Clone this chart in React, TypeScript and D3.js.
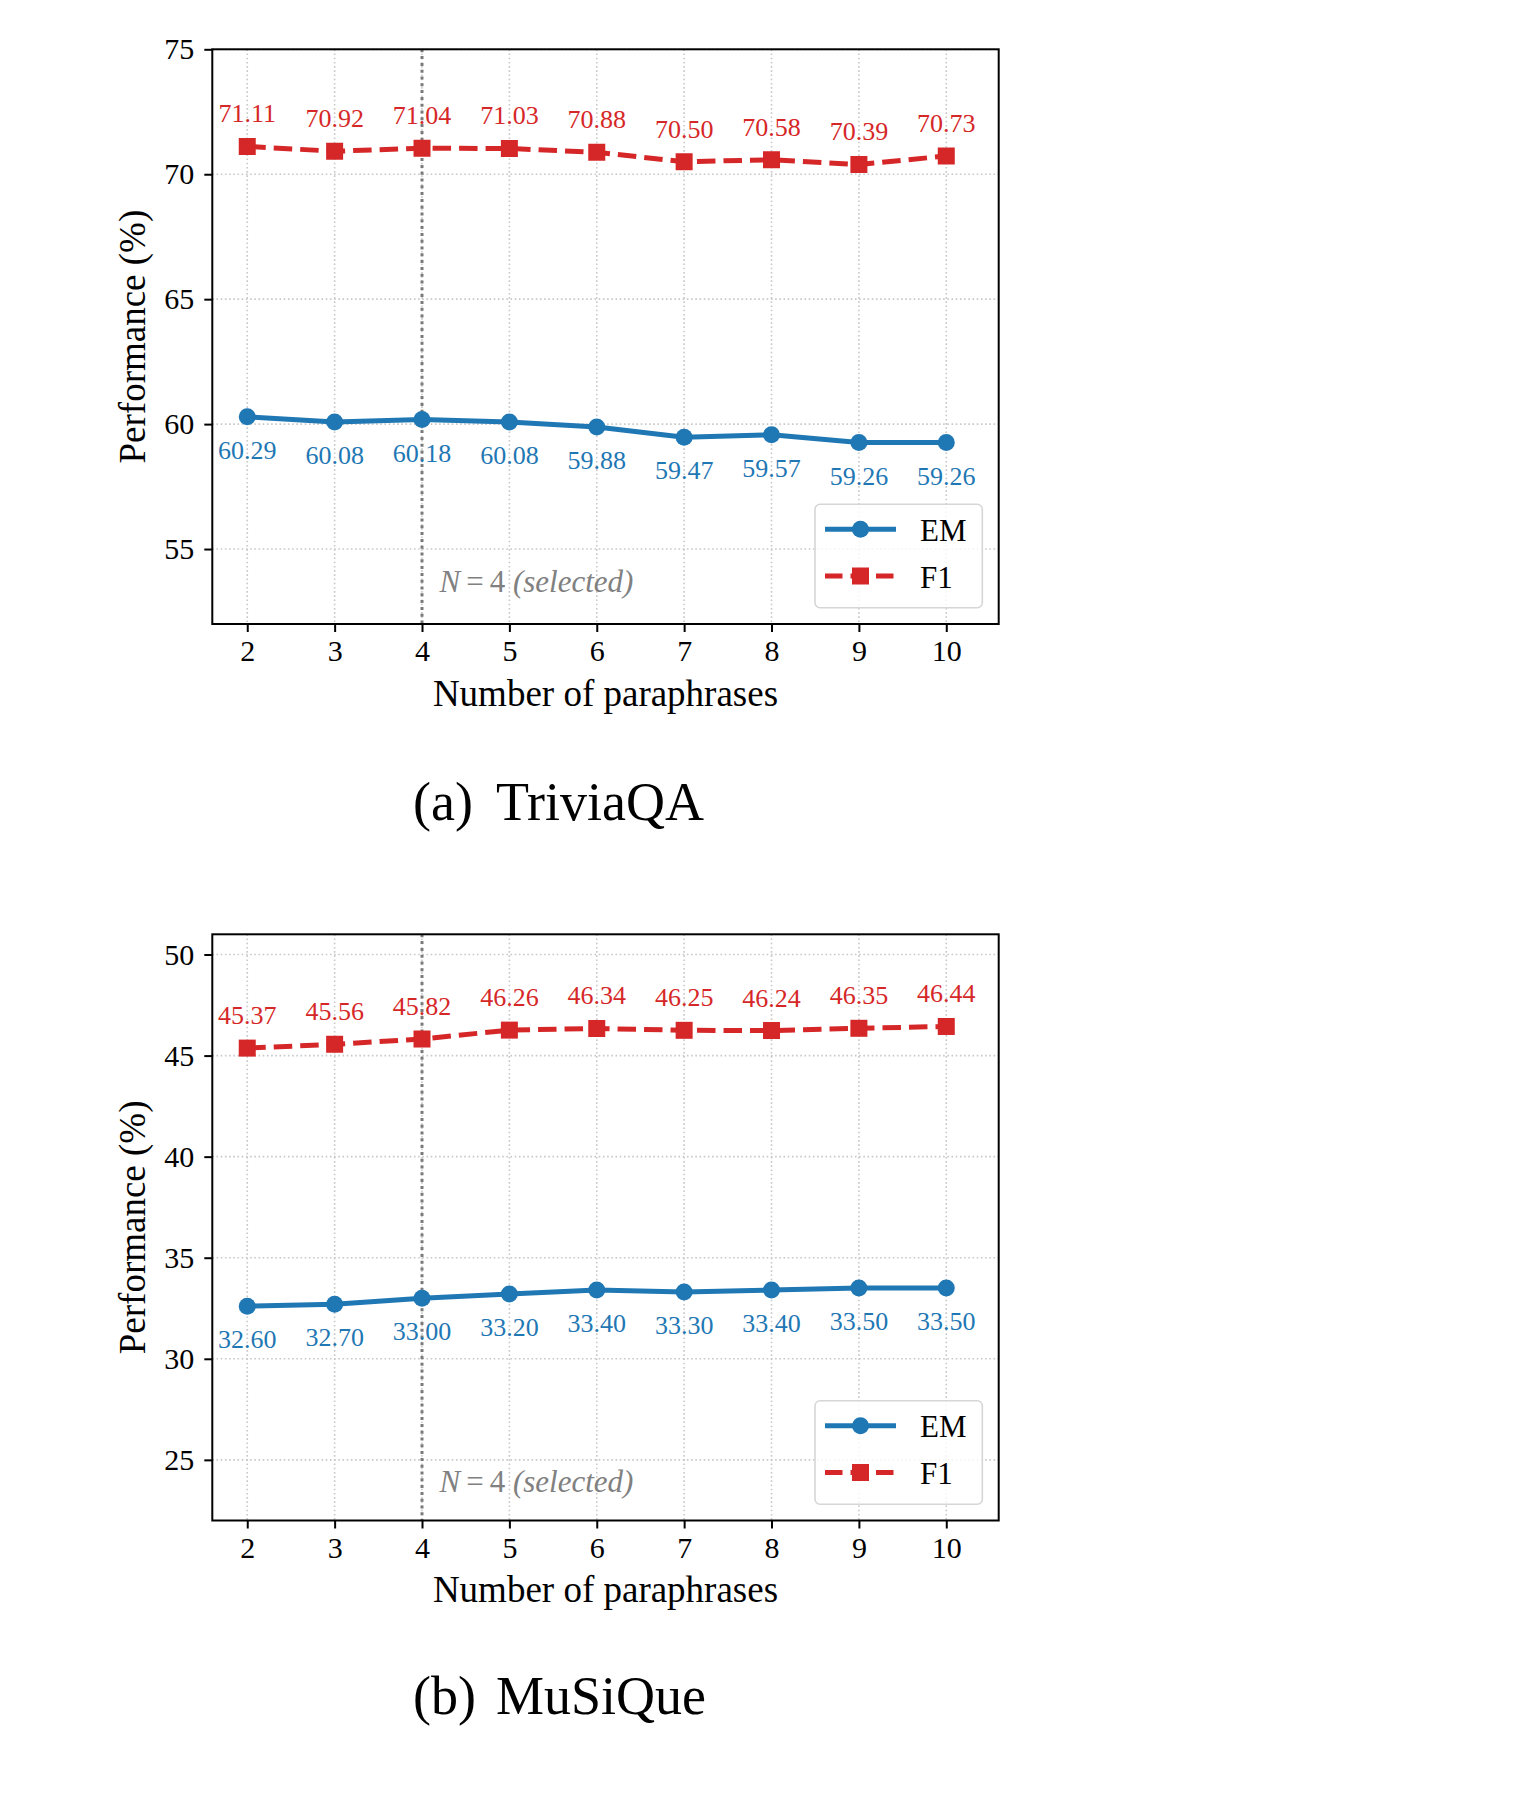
import * as d3 from "d3";
import React, { useEffect, useRef } from "react";

// x values: number of paraphrases
const paraphraseCounts = [2, 3, 4, 5, 6, 7, 8, 9, 10];

// TriviaQA scores (%)
const triviaEM = [60.29, 60.08, 60.18, 60.08, 59.88, 59.47, 59.57, 59.26, 59.26];
const triviaF1 = [71.11, 70.92, 71.04, 71.03, 70.88, 70.5, 70.58, 70.39, 70.73];
const triviaYTicks = [55, 60, 65, 70, 75];

// MuSiQue scores (%)
const musiqueEM = [32.6, 32.7, 33.0, 33.2, 33.4, 33.3, 33.4, 33.5, 33.5];
const musiqueF1 = [45.37, 45.56, 45.82, 46.26, 46.34, 46.25, 46.24, 46.35, 46.44];
const musiqueYTicks = [25, 30, 35, 40, 45, 50];

const selectedN = 4;
const seriesNames = ["EM", "F1"];

const FONT = "'Liberation Serif', 'Times New Roman', Times, serif";
const BLUE = "#1f77b4";
const RED = "#d62728";

interface PanelSpec {
  em: number[];
  f1: number[];
  yDomain: [number, number];
  yTicks: number[];
  top: number;
  bottom: number;
  annotY: number;
  tag: string;
  name: string;
  captionY: number;
}

const panels: PanelSpec[] = [
  {
    em: triviaEM,
    f1: triviaF1,
    yDomain: [52, 75],
    yTicks: triviaYTicks,
    top: 49.3,
    bottom: 624,
    annotY: 53.3,
    tag: "(a)",
    name: "TriviaQA",
    captionY: 820,
  },
  {
    em: musiqueEM,
    f1: musiqueF1,
    yDomain: [22, 51],
    yTicks: musiqueYTicks,
    top: 934.3,
    bottom: 1520.5,
    annotY: 23.4,
    tag: "(b)",
    name: "MuSiQue",
    captionY: 1714,
  },
];

export default function App() {
  const ref = useRef<SVGSVGElement | null>(null);

  useEffect(() => {
    const svg = d3.select(ref.current);
    svg.selectAll("*").remove();

    const left = 212.3;
    const right = 998.7;
    const x = d3.scaleLinear().domain([1.6, 10.6]).range([left, right]);

    panels.forEach((p) => {
      const y = d3.scaleLinear().domain(p.yDomain).range([p.bottom, p.top]);
      const g = svg.append("g").style("font-family", FONT);

      // dotted grid
      g.append("g")
        .selectAll("line")
        .data(paraphraseCounts)
        .join("line")
        .attr("x1", (d) => x(d))
        .attr("x2", (d) => x(d))
        .attr("y1", p.top)
        .attr("y2", p.bottom)
        .attr("stroke", "#c8c8c8")
        .attr("stroke-width", 1.6)
        .attr("stroke-dasharray", "1.6,2.6");
      g.append("g")
        .selectAll("line")
        .data(p.yTicks)
        .join("line")
        .attr("x1", left)
        .attr("x2", right)
        .attr("y1", (d) => y(d))
        .attr("y2", (d) => y(d))
        .attr("stroke", "#c8c8c8")
        .attr("stroke-width", 1.6)
        .attr("stroke-dasharray", "1.6,2.6");

      // marker for the chosen N
      g.append("line")
        .attr("x1", x(selectedN))
        .attr("x2", x(selectedN))
        .attr("y1", p.top)
        .attr("y2", p.bottom)
        .attr("stroke", "#6e6e6e")
        .attr("stroke-opacity", 0.9)
        .attr("stroke-width", 3)
        .attr("stroke-dasharray", "3,3.8");

      const annot = g
        .append("text")
        .attr("x", x(4.2))
        .attr("y", y(p.annotY))
        .style("font-family", FONT)
        .attr("font-size", 31)
        .attr("fill", "#808080");
      annot.append("tspan").attr("font-style", "italic").text("N");
      annot.append("tspan").attr("dx", 6).text("=");
      annot.append("tspan").attr("dx", 6).text("4");
      annot.append("tspan").attr("font-style", "italic").text(" (selected)");

      const line = d3
        .line<number>()
        .x((_, i) => x(paraphraseCounts[i]))
        .y((d) => y(d));

      // EM series
      g.append("path")
        .datum(p.em)
        .attr("d", line)
        .attr("fill", "none")
        .attr("stroke", BLUE)
        .attr("stroke-width", 5)
        .attr("stroke-linejoin", "round");
      g.append("g")
        .selectAll("circle")
        .data(p.em)
        .join("circle")
        .attr("cx", (_, i) => x(paraphraseCounts[i]))
        .attr("cy", (d) => y(d))
        .attr("r", 8.5)
        .attr("fill", BLUE);

      // F1 series
      g.append("path")
        .datum(p.f1)
        .attr("d", line)
        .attr("fill", "none")
        .attr("stroke", RED)
        .attr("stroke-width", 5)
        .attr("stroke-dasharray", "18.5,8");
      g.append("g")
        .selectAll("rect")
        .data(p.f1)
        .join("rect")
        .attr("x", (_, i) => x(paraphraseCounts[i]) - 8.5)
        .attr("y", (d) => y(d) - 8.5)
        .attr("width", 17)
        .attr("height", 17)
        .attr("fill", RED);

      // value labels
      g.append("g")
        .selectAll("text")
        .data(p.f1)
        .join("text")
        .attr("x", (_, i) => x(paraphraseCounts[i]))
        .attr("y", (d) => y(d) - 24)
        .attr("text-anchor", "middle")
        .style("font-family", FONT)
        .attr("font-size", 26)
        .attr("fill", RED)
        .text((d) => d.toFixed(2));
      g.append("g")
        .selectAll("text")
        .data(p.em)
        .join("text")
        .attr("x", (_, i) => x(paraphraseCounts[i]))
        .attr("y", (d) => y(d) + 42)
        .attr("text-anchor", "middle")
        .style("font-family", FONT)
        .attr("font-size", 26)
        .attr("fill", BLUE)
        .text((d) => d.toFixed(2));

      // frame
      g.append("rect")
        .attr("x", left)
        .attr("y", p.top)
        .attr("width", right - left)
        .attr("height", p.bottom - p.top)
        .attr("fill", "none")
        .attr("stroke", "#000")
        .attr("stroke-width", 2);

      // axes
      const yAxis = g
        .append("g")
        .attr("transform", `translate(${left},0)`)
        .call(d3.axisLeft(y).tickValues(p.yTicks).tickSize(8).tickPadding(10).tickFormat(d3.format("d")));
      const xAxis = g
        .append("g")
        .attr("transform", `translate(0,${p.bottom})`)
        .call(d3.axisBottom(x).tickValues(paraphraseCounts).tickSize(8).tickPadding(8).tickFormat(d3.format("d")));
      [yAxis, xAxis].forEach((a) => {
        a.select(".domain").remove();
        a.style("font-family", FONT).attr("font-size", 30);
        a.selectAll("line").attr("stroke", "#000").attr("stroke-width", 2);
        a.selectAll("text").style("font-family", FONT).style("font-size", "30px").attr("fill", "#000");
      });

      g.append("text")
        .attr("x", (left + right) / 2)
        .attr("y", p.bottom + 81.7)
        .attr("text-anchor", "middle")
        .style("font-family", FONT)
        .attr("font-size", 37)
        .text("Number of paraphrases");
      g.append("text")
        .attr("transform", `translate(145,${(p.top + p.bottom) / 2}) rotate(-90)`)
        .attr("text-anchor", "middle")
        .style("font-family", FONT)
        .attr("font-size", 37)
        .text("Performance (%)");

      // legend
      const lgTop = p.bottom - 16.3 - 103.4;
      const lg = g.append("g");
      lg.append("rect")
        .attr("x", 815)
        .attr("y", lgTop)
        .attr("width", 167.3)
        .attr("height", 103.4)
        .attr("rx", 5)
        .attr("fill", "#fff")
        .attr("fill-opacity", 0.8)
        .attr("stroke", "#d6d6d6")
        .attr("stroke-width", 1.6);
      seriesNames.forEach((name, i) => {
        const ry = lgTop + 25 + i * 46.7;
        const color = i === 0 ? BLUE : RED;
        lg.append("line")
          .attr("x1", 825)
          .attr("x2", 896)
          .attr("y1", ry)
          .attr("y2", ry)
          .attr("stroke", color)
          .attr("stroke-width", 5)
          .attr("stroke-dasharray", i === 0 ? null : "17.5,8");
        if (i === 0) {
          lg.append("circle").attr("cx", 860.5).attr("cy", ry).attr("r", 8.5).attr("fill", color);
        } else {
          lg.append("rect")
            .attr("x", 852)
            .attr("y", ry - 8.5)
            .attr("width", 17)
            .attr("height", 17)
            .attr("fill", color);
        }
        lg.append("text")
          .attr("x", 920)
          .attr("y", ry + 11.5)
          .style("font-family", FONT)
          .attr("font-size", 31)
          .text(name);
      });

      // sub-caption
      g.append("text")
        .attr("x", 413)
        .attr("y", p.captionY)
        .style("font-family", FONT)
        .attr("font-size", 54)
        .text(p.tag);
      g.append("text")
        .attr("x", 496)
        .attr("y", p.captionY)
        .style("font-family", FONT)
        .attr("font-size", 54)
        .text(p.name);
    });
  }, []);

  return (
    <svg
      ref={ref}
      width={1536}
      height={1816}
      style={{ position: "absolute", left: 0, top: 0, background: "#fff" }}
    />
  );
}
